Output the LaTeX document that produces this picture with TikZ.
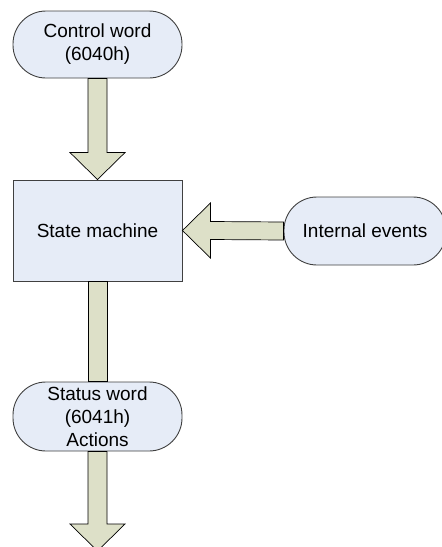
\documentclass[tikz,border=0pt]{standalone}
\usepackage{fontspec}
\setmainfont{Liberation Sans}
\usetikzlibrary{calc}
\definecolor{boxfill}{HTML}{E6ECF7}
\definecolor{arrowfill}{HTML}{DDE0C8}
\definecolor{edgegray}{HTML}{404040}
\begin{document}
\begin{tikzpicture}[x=1pt,y=-1pt,
  lbl/.style={font=\fontsize{19}{23}\selectfont, align=center, inner sep=0pt},
  term/.style={lbl, draw=edgegray, fill=boxfill, line width=0.9pt, rounded corners=33pt, minimum width=169pt, minimum height=67pt},
  procbox/.style={lbl, draw=edgegray, fill=boxfill, line width=0.9pt, minimum width=169pt, minimum height=101pt},
  fatarrow/.style={draw=black, fill=arrowfill, line width=0.7pt}]
\useasboundingbox (0,0) rectangle (442,547);
\clip (0,0) rectangle (442,547);
\node[term] (cw) at (97.5,44.5) {Control word\\(6040h)};
\node[procbox] (sm) at (97.5,230.5) {State machine};
\node[term, minimum width=162pt, minimum height=68pt] (ie) at (365,231) {Internal events};
\node[term, minimum height=69pt] (sw) at (97.5,416.5) {Status word\\(6041h)\\Actions};
\coordinate (out) at (97.5,551);
% down arrow control word -> state machine
\draw[fatarrow] ($(cw.south)+(-9.5,0)$) -- ($(sm.north)+(-9.5,-27)$) -- ($(sm.north)+(-27.5,-27)$) -- (sm.north)
  -- ($(sm.north)+(27.5,-27)$) -- ($(sm.north)+(9.5,-27)$) -- ($(cw.south)+(9.5,0)$) -- cycle;
% left arrow internal events -> state machine
\draw[fatarrow] ($(ie.west)+(0,-9)$) -- ($(sm.east)+(28,-9)$) -- ($(sm.east)+(28,-27.5)$) -- (sm.east)
  -- ($(sm.east)+(28,27.5)$) -- ($(sm.east)+(28,9)$) -- ($(ie.west)+(0,9)$) -- cycle;
% shaft state machine -> status word
\draw[fatarrow] ($(sm.south)+(-9.5,0)$) rectangle ($(sw.north)+(9.5,0)$);
% down arrow from status word
\draw[fatarrow] ($(sw.south)+(-9.5,0)$) -- ($(out)+(-9.5,-27)$) -- ($(out)+(-27.5,-27)$) -- (out)
  -- ($(out)+(27.5,-27)$) -- ($(out)+(9.5,-27)$) -- ($(sw.south)+(9.5,0)$) -- cycle;
\end{tikzpicture}
\end{document}
